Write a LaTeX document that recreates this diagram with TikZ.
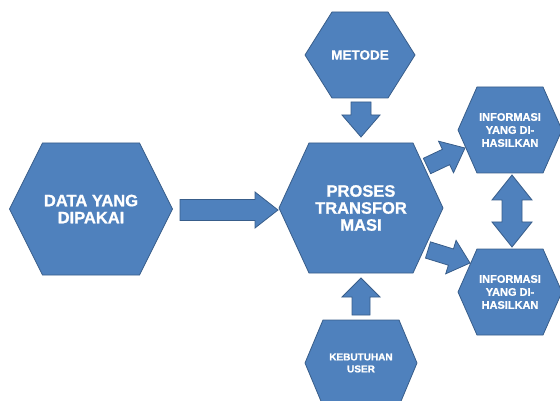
\documentclass[tikz,border=0pt]{standalone}
\usepackage{fontspec}
\setmainfont{Liberation Sans}
\newfontfamily\heavysans{Liberation Sans Bold}[FakeBold=1]
\usepackage{tikz}
\usetikzlibrary{calc}

\definecolor{boxblue}{RGB}{79,129,189}
\definecolor{boxline}{RGB}{56,93,138}

\tikzset{
  hexshape/.style={fill=boxblue, draw=boxline, line width=0.8pt, line join=miter},
  arrowshape/.style={fill=boxblue, draw=boxline, line width=0.8pt},
  hextext/.style={text=white, align=center, inner sep=0pt}
}

% hexagon: name, centre, half width, half height, inset
\newcommand\hexa[5]{%
  \filldraw[hexshape] ($#2+(-#3,0)$) -- ($#2+(-#3+#5,-#4)$) -- ($#2+(#3-#5,-#4)$)
    -- ($#2+(#3,0)$) -- ($#2+(#3-#5,#4)$) -- ($#2+(-#3+#5,#4)$) -- cycle;
  \coordinate (#1) at #2;}

% block arrow: from, to, shaft half, head half, head length
\newcommand\blockarrow[5]{%
  \filldraw[arrowshape] let \p1=#1, \p2=#2,
      \n1={atan2(\y2-\y1,\x2-\x1)}, \n2={veclen(\x2-\x1,\y2-\y1)} in
    [shift={(\p1)}, rotate=\n1]
    (0,-#3) -- ({\n2-#5},-#3) -- ({\n2-#5},-#4) -- (\n2,0)
    -- ({\n2-#5},#4) -- ({\n2-#5},#3) -- (0,#3) -- cycle;}

% double block arrow: from, to, shaft half, head half, head length
\newcommand\dblarrow[5]{%
  \filldraw[arrowshape] let \p1=#1, \p2=#2,
      \n1={atan2(\y2-\y1,\x2-\x1)}, \n2={veclen(\x2-\x1,\y2-\y1)} in
    [shift={(\p1)}, rotate=\n1]
    (0,0) -- (#5,-#4) -- (#5,-#3) -- ({\n2-#5},-#3) -- ({\n2-#5},-#4) -- (\n2,0)
    -- ({\n2-#5},#4) -- ({\n2-#5},#3) -- (#5,#3) -- (#5,#4) -- cycle;}

\begin{document}
\begin{tikzpicture}[x=1pt, y=-1pt]
  \useasboundingbox (0,0) rectangle (560,401);

  \hexa{data}{(91,209)}{81.5}{66}{33}
  \hexa{proses}{(361,208)}{82}{65}{30}
  \hexa{metode}{(360,55)}{55}{43}{27}
  \hexa{info1}{(510,130)}{52}{43}{19}
  \hexa{info2}{(510,292)}{52}{43}{19}
  \hexa{user}{(361,363)}{56}{43}{18}

  \node[hextext, font=\heavysans\fontsize{16.5}{17}\selectfont] (data-txt) at (data) {DATA YANG\\DIPAKAI};
  \node[hextext, font=\heavysans\fontsize{16.5}{17}\selectfont] (proses-txt) at (proses) {PROSES\\TRANSFOR\\MASI};
  \node[hextext, font=\heavysans\fontsize{13.5}{14}\selectfont] (metode-txt) at (metode) {METODE};
  \node[hextext, font=\heavysans\fontsize{11}{13}\selectfont] (info1-txt) at (info1) {INFORMASI\\YANG DI-\\HASILKAN};
  \node[hextext, font=\heavysans\fontsize{11}{13}\selectfont] (info2-txt) at (info2) {INFORMASI\\YANG DI-\\HASILKAN};
  \node[hextext, font=\heavysans\fontsize{10}{12}\selectfont] (user-txt) at (user) {KEBUTUHAN\\USER};

  \blockarrow{($(data)+(89,1)$)}{($(proses)+(-83,2)$)}{10.5}{18}{23}
  \blockarrow{($(metode)+(1,47)$)}{($(proses)+(0,-71)$)}{10}{19}{22}
  \blockarrow{($(user)+(0,-48)$)}{($(proses)+(0,70)$)}{9}{19}{19}
  \blockarrow{($(proses)+(66,-42)$)}{($(info1)+(-45,18)$)}{8.5}{17.5}{21}
  \blockarrow{($(proses)+(67,42)$)}{($(info2)+(-40,-29)$)}{8.5}{17.5}{20}
  \dblarrow{($(info1)+(2,45)$)}{($(info2)+(2,-45)$)}{10}{20}{25}
\end{tikzpicture}
\end{document}
